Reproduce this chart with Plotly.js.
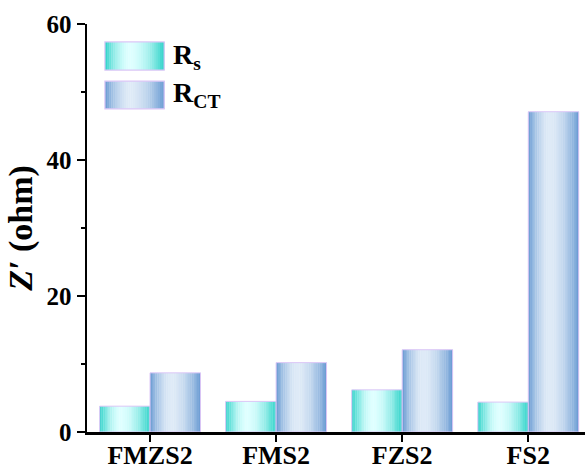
<!DOCTYPE html>
<html>
<head>
<meta charset="utf-8">
<script src="https://cdn.plot.ly/plotly-3.0.1.min.js"></script>
<style>html,body{margin:0;padding:0;background:#fff;}#chart{width:585px;height:468px;}</style>
</head>
<body>
<div id="chart"></div>
<script>
const categories = ['FMZS2', 'FMS2', 'FZS2', 'FS2'];
const rsValues = [3.8, 4.5, 6.2, 4.4];
const rctValues = [8.7, 10.2, 12.1, 47.1];
const seriesNames = ['R<sub>s</sub>', 'R<sub>CT</sub>'];
const yTicks = [0, 20, 40, 60];

const FONT = 'Liberation Serif, Times New Roman, serif';
const BAR_W = 0.4;
const N = 28;
const styles = [
  {edge: [44, 210, 200], center: [222, 255, 255], offset: -BAR_W},
  {edge: [104, 154, 210], center: [222, 234, 247], offset: 0}
];
const outline = '#dcc6f6';

function profile(t) {
  const p = 0.42;
  const d = t < p ? (p - t) / p : (t - p) / (1 - p);
  return 1 - Math.pow(d, 1.8);
}
function colorAt(st, t) {
  const f = profile(t);
  const c = st.edge.map((e, k) => Math.round(e + (st.center[k] - e) * f));
  return 'rgb(' + c.join(',') + ')';
}

const data = [];
const valueSets = [rsValues, rctValues];
valueSets.forEach((vals, s) => {
  const st = styles[s];
  for (let i = 0; i < N; i++) {
    const t = (i + 0.5) / N;
    data.push({
      type: 'bar', x: categories, y: vals,
      width: BAR_W / N * 1.15,
      offset: st.offset + i * BAR_W / N,
      marker: {color: colorAt(st, t), line: {width: 0}},
      hoverinfo: 'skip', showlegend: false
    });
  }
  data.push({
    type: 'bar', x: categories, y: vals, name: seriesNames[s],
    width: BAR_W, offset: st.offset,
    marker: {color: 'rgba(0,0,0,0)', line: {color: outline, width: 1}},
    showlegend: false
  });
});

// legend swatches (paper coords)
const shapes = [];
const annotations = [];
const sw = [{y0: 0.887, y1: 0.956}, {y0: 0.792, y1: 0.860}];
const sx0 = 0.036, sx1 = 0.155;
sw.forEach((b, s) => {
  const st = styles[s];
  for (let i = 0; i < N; i++) {
    const t = (i + 0.5) / N;
    shapes.push({type: 'rect', xref: 'paper', yref: 'paper',
      x0: sx0 + (sx1 - sx0) * i / N, x1: sx0 + (sx1 - sx0) * (i + 1.15) / N,
      y0: b.y0, y1: b.y1, fillcolor: colorAt(st, t), line: {width: 0}, layer: 'above'});
  }
  shapes.push({type: 'rect', xref: 'paper', yref: 'paper', x0: sx0, x1: sx1, y0: b.y0, y1: b.y1,
    fillcolor: 'rgba(0,0,0,0)', line: {color: outline, width: 1.2}, layer: 'above'});
  annotations.push({xref: 'paper', yref: 'paper', x: 0.168, y: (b.y0 + b.y1) / 2,
    xanchor: 'left', yanchor: 'middle', showarrow: false, text: seriesNames[s],
    font: {family: FONT, size: 28, color: '#000', weight: 'bold'}});
});

const layout = {
  width: 585, height: 468,
  margin: {l: 87, r: 0, t: 24, b: 36},
  paper_bgcolor: '#fff', plot_bgcolor: '#fff',
  barmode: 'overlay',
  showlegend: false,
  font: {family: FONT, color: '#000', weight: 'bold'},
  xaxis: {
    type: 'category', range: [-0.5, 3.45],
    showline: true, linewidth: 2.5, linecolor: '#000',
    ticks: 'outside', ticklen: 7, tickwidth: 2, tickcolor: '#000',
    ticklabelstandoff: -9,
    tickfont: {family: FONT, size: 26, color: '#000', weight: 'bold'},
    showgrid: false, zeroline: false, fixedrange: true
  },
  yaxis: {
    range: [0, 60], tickvals: yTicks, ticktext: yTicks.map(String),
    showline: true, linewidth: 2.5, linecolor: '#000',
    ticks: 'outside', ticklen: 8, tickwidth: 2, tickcolor: '#000',
    minor: {dtick: 10, tick0: 0, ticks: 'outside', ticklen: 4, tickwidth: 2, tickcolor: '#000', showgrid: false},
    tickfont: {family: FONT, size: 25, color: '#000', weight: 'bold'},
    showgrid: false, zeroline: false, fixedrange: true,
    title: {text: '<i>Z′</i> (ohm)', font: {family: FONT, size: 34, color: '#000', weight: 'bold'}, standoff: 4}
  },
  shapes: shapes,
  annotations: annotations
};

Plotly.newPlot('chart', data, layout, {displayModeBar: false, staticPlot: true});
</script>
</body>
</html>
